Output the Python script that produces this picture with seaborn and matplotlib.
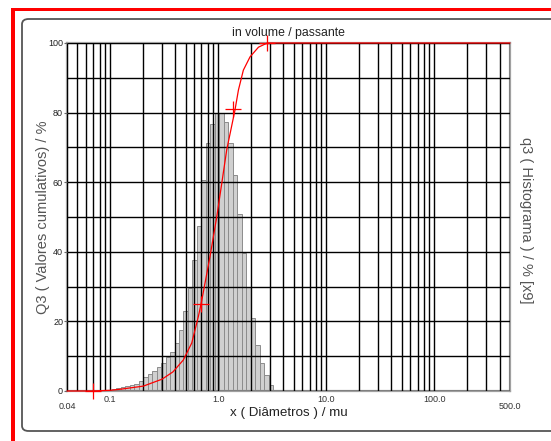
import numpy as np
import pandas as pd
import seaborn as sns
import matplotlib.pyplot as plt
from matplotlib.patches import Rectangle, FancyBboxPatch
from matplotlib.ticker import FixedLocator, NullFormatter, LogLocator

# class limits of the histogram (mu), ratio ~1.1 between classes
class_edges = [0.104, 0.1144, 0.1258, 0.1384, 0.1523, 0.1675, 0.1842, 0.2027, 0.2229,
               0.2452, 0.2697, 0.2967, 0.3264, 0.3590, 0.3949, 0.4344, 0.4778, 0.5256,
               0.5782, 0.6360, 0.6996, 0.7696, 0.8465, 0.9312, 1.0243, 1.1267, 1.2394,
               1.3633, 1.4997, 1.6497, 1.8146, 1.9961, 2.1957, 2.4153, 2.6568, 2.9225,
               3.2147]
# q3 histogram values (% x9)
q3_hist = [0.6, 0.8, 1.1, 1.3, 1.7, 2.1, 2.8, 3.9, 4.9, 5.8,
           7.0, 8.1, 9.7, 11.1, 13.7, 17.5, 23.1, 29.7, 37.6, 47.4,
           60.6, 71.2, 76.7, 80.0, 80.0, 77.4, 71.2, 62.1, 50.9, 39.6,
           29.8, 20.9, 13.2, 8.0, 4.6, 1.7]

# Q3 cumulative curve
q3_x = [0.04, 0.07, 0.1, 0.124, 0.203, 0.303, 0.382, 0.476, 0.57, 0.656,
        0.705, 0.84, 0.97, 1.08, 1.20, 1.43, 1.54, 1.71, 1.97, 2.36, 2.85, 500.0]
q3_cum = [0, 0, 0.2, 0.5, 1.4, 3.4, 5.5, 8.9, 13.8, 21.4,
          26.0, 38.6, 50.0, 59.7, 69.3, 80.7, 86.5, 92.2, 96.0, 98.8, 100.0, 100.0]

# marked points on the curve
mark_x = [0.07, 0.70, 1.37, 2.85]
mark_y = [0, 25, 81, 100]

x_ticks = [0.1, 1.0, 10.0, 100.0]
x_tick_labels = ["0.1", "1.0", "10.0", "100.0"]

centers = [np.sqrt(class_edges[i] * class_edges[i + 1]) for i in range(len(q3_hist))]
hist_df = pd.DataFrame({"x": centers, "q3": q3_hist})
cum_df = pd.DataFrame({"x": q3_x, "Q3": q3_cum})

sns.set_style("white")
plt.rcParams["font.family"] = ["Liberation Sans", "DejaVu Sans"]

fig = plt.figure(figsize=(5.51, 4.41), dpi=100)
ax = fig.add_axes([67 / 551, 50 / 441, 443 / 551, 348 / 441])
ax.set_xscale("log")

# seaborn bins in log10 space when the axis is log scaled
sns.histplot(data=hist_df, x="x", weights="q3", bins=list(np.log10(class_edges)),
             ax=ax, color="#d0d0d0", edgecolor="#8c8c8c", linewidth=0.7, alpha=1)
sns.lineplot(data=cum_df, x="x", y="Q3", ax=ax, color="red", linewidth=0.9,
             sort=False, estimator=None, zorder=4, clip_on=False)
ax.plot(mark_x, mark_y, linestyle="none", marker="+", color="red",
        markeredgecolor="red", markersize=11, markeredgewidth=0.9, zorder=5,
        clip_on=False)

ax.set_xlim(0.04, 500)
ax.set_ylim(0, 100)

# grid
ax.xaxis.set_major_locator(FixedLocator(x_ticks))
ax.xaxis.set_minor_locator(LogLocator(base=10, subs=np.arange(2, 10)))
ax.xaxis.set_minor_formatter(NullFormatter())
ax.set_xticklabels(x_tick_labels)
ax.yaxis.set_major_locator(FixedLocator([0, 20, 40, 60, 80, 100]))
ax.yaxis.set_minor_locator(FixedLocator([10, 30, 50, 70, 90]))
ax.grid(True, which="both", color="black", linewidth=1.0)
ax.set_axisbelow(False)

ax.tick_params(axis="x", which="both", length=0, labelsize=6.5, pad=3, labelcolor="#333333")
ax.tick_params(axis="y", which="major", length=2.5, width=0.8, color="#666666",
               labelsize=6.5, pad=0.3, labelcolor="#222222", left=True)
ax.tick_params(axis="y", which="minor", length=0)
for s in ax.spines.values():
    s.set_color("#a0a0a0")
    s.set_linewidth(1.6)

ax.text(0.04, -0.033, "0.04", transform=ax.get_xaxis_transform(), ha="center", va="top",
        fontsize=6.5, color="#333333")
ax.text(500, -0.033, "500.0", transform=ax.get_xaxis_transform(), ha="center", va="top",
        fontsize=6.5, color="#333333")

ax.set_xlabel("x ( Diâmetros ) / mu", fontsize=9.6, color="#222222", labelpad=2)
ax.set_ylabel("")
ax.set_title("in volume / passante", fontsize=8.8, color="#222222", pad=5)
fig.text(43 / 551, 1 - 217 / 441, "Q3 ( Valores cumulativos) / %", rotation=90,
         ha="center", va="center", fontsize=10.5, color="#555555")
fig.text(526 / 551, 1 - 220 / 441, "q3 ( Histograma ) / % [x9]", rotation=-90,
         ha="center", va="center", fontsize=10.5, color="#555555")

# screenshot frame
fig.patches.append(FancyBboxPatch((22 / 551, 10 / 441), 0.98, 412 / 441,
                                  boxstyle="round,pad=0,rounding_size=0.012",
                                  transform=fig.transFigure, facecolor="none",
                                  edgecolor="#555555", linewidth=1.3))
fig.patches.append(Rectangle((11 / 551, 0), 4 / 551, 433 / 441, transform=fig.transFigure,
                             facecolor="red", edgecolor="none"))
fig.patches.append(Rectangle((11 / 551, 430 / 441), 1, 3.5 / 441, transform=fig.transFigure,
                             facecolor="red", edgecolor="none"))

fig.savefig("out.png", dpi=100)
